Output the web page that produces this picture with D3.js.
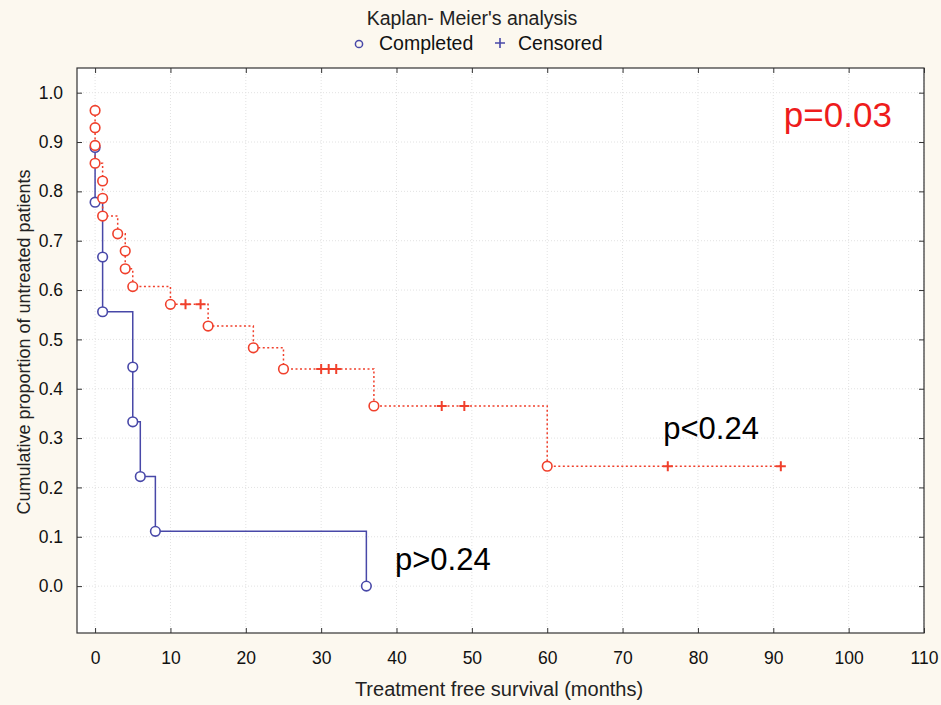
<!DOCTYPE html>
<html>
<head>
<meta charset="utf-8">
<script src="https://cdn.jsdelivr.net/npm/d3@7"></script>
<style>
  body { margin: 0; background: #fcf8ef; }
  svg { display: block; font-family: "Liberation Sans", Arial, sans-serif; }
</style>
</head>
<body>
<svg></svg>
<script>
var width = 941;
var height = 705;

// values
var xTicks = [0, 10, 20, 30, 40, 50, 60, 70, 80, 90, 100, 110];
var yTicks = [0.0, 0.1, 0.2, 0.3, 0.4, 0.5, 0.6, 0.7, 0.8, 0.9, 1.0];

// censored group (red): events and censored cases
var redEventTimes = [0, 0, 0, 0, 1, 1, 1, 3, 4, 4, 5, 10, 15, 21, 25, 37, 60];
var redEventSurv = [0.964, 0.929, 0.893, 0.857, 0.821, 0.786, 0.750, 0.714, 0.679, 0.643, 0.607, 0.571, 0.527, 0.483, 0.440, 0.365, 0.243];
var redCensTimes = [12, 14, 30, 31, 32, 46, 49, 76, 91];
var redCensSurv = [0.571, 0.571, 0.440, 0.440, 0.440, 0.365, 0.365, 0.243, 0.243];

// completed group (blue)
var blueEventTimes = [0, 0, 1, 1, 5, 5, 6, 8, 36];
var blueEventSurv = [0.889, 0.778, 0.667, 0.556, 0.444, 0.333, 0.222, 0.111, 0.0];

var blue = "#4848a8";
var red = "#f0402c";

var xScale = d3.scaleLinear()
                .domain([-2.4, 110])
                .range([77, 924]);

var yScale = d3.scaleLinear()
                .domain([-0.095, 1.05])
                .range([633, 68]);

var svg = d3.select("svg")
    .attr("width", width)
    .attr("height", height);

// plot area
svg.append("rect")
    .attr("x", xScale.range()[0])
    .attr("y", yScale.range()[1])
    .attr("width", xScale.range()[1] - xScale.range()[0])
    .attr("height", yScale.range()[0] - yScale.range()[1])
    .attr("fill", "#ffffff");

// grid
svg.append("g")
  .selectAll("line")
  .data(xTicks)
  .enter()
  .append("line")
    .attr("x1", d => xScale(d))
    .attr("x2", d => xScale(d))
    .attr("y1", yScale.range()[1])
    .attr("y2", yScale.range()[0])
    .attr("stroke", "#e2e2e2")
    .attr("stroke-dasharray", "1,2");

svg.append("g")
  .selectAll("line")
  .data(yTicks)
  .enter()
  .append("line")
    .attr("x1", xScale.range()[0])
    .attr("x2", xScale.range()[1])
    .attr("y1", d => yScale(d))
    .attr("y2", d => yScale(d))
    .attr("stroke", "#e2e2e2")
    .attr("stroke-dasharray", "1,2");

// axes, ticks pointing inward
var xAxis = d3.axisBottom(xScale)
                .tickValues(xTicks)
                .tickFormat(d3.format("d"))
                .tickSize(-5)
                .tickSizeOuter(0)
                .tickPadding(19);
var yAxis = d3.axisLeft(yScale)
                .tickValues(yTicks)
                .tickFormat(d3.format(".1f"))
                .tickSize(-5)
                .tickSizeOuter(0)
                .tickPadding(14);

svg.append("g")
    .attr("transform", "translate(0," + yScale.range()[0] + ")")
    .call(xAxis);

svg.append("g")
    .attr("transform", "translate(" + xScale.range()[0] + ",0)")
    .call(yAxis);

svg.append("g")
    .attr("transform", "translate(0," + yScale.range()[1] + ")")
    .call(d3.axisTop(xScale).tickValues(xTicks).tickSize(-5).tickSizeOuter(0).tickFormat(""));

svg.append("g")
    .attr("transform", "translate(" + xScale.range()[1] + ",0)")
    .call(d3.axisRight(yScale).tickValues(yTicks).tickSize(-5).tickSizeOuter(0).tickFormat(""));

svg.selectAll(".domain").remove();
svg.selectAll(".tick line").attr("stroke", "#333");
svg.selectAll(".tick text")
    .style("font-size", "17.5px")
    .attr("fill", "#111");

// frame
svg.append("rect")
    .attr("x", xScale.range()[0])
    .attr("y", yScale.range()[1])
    .attr("width", xScale.range()[1] - xScale.range()[0])
    .attr("height", yScale.range()[0] - yScale.range()[1])
    .attr("fill", "none")
    .attr("stroke", "#333")
    .attr("stroke-width", 1.2);

// step curves
function points(times, surv) {
    return times.map((t, i) => ({t: t, s: surv[i]}));
}

var redEvents = points(redEventTimes, redEventSurv);
var redCens = points(redCensTimes, redCensSurv);
var redAll = redEvents.concat(redCens)
    .sort((a, b) => a.t - b.t || b.s - a.s);
var blueEvents = points(blueEventTimes, blueEventSurv);

var step = d3.line()
    .x(d => xScale(d.t))
    .y(d => yScale(d.s))
    .curve(d3.curveStepAfter);

svg.append("path")
    .attr("d", step(blueEvents))
    .attr("fill", "none")
    .attr("stroke", blue)
    .attr("stroke-width", 1.5);

svg.append("path")
    .attr("d", step(redAll))
    .attr("fill", "none")
    .attr("stroke", red)
    .attr("stroke-width", 1.5)
    .attr("stroke-dasharray", "2,2.5");

var crossPath = "M-5,0H5M0,-5V5";

svg.append("g")
  .selectAll("circle")
  .data(blueEvents)
  .enter()
  .append("circle")
    .attr("cx", d => xScale(d.t))
    .attr("cy", d => yScale(d.s))
    .attr("r", 4.8)
    .attr("fill", "#fff")
    .attr("stroke", blue)
    .attr("stroke-width", 1.6);

svg.append("g")
  .selectAll("circle")
  .data(redEvents)
  .enter()
  .append("circle")
    .attr("cx", d => xScale(d.t))
    .attr("cy", d => yScale(d.s))
    .attr("r", 4.8)
    .attr("fill", "#fff")
    .attr("stroke", red)
    .attr("stroke-width", 1.6);

svg.append("g")
  .selectAll("path")
  .data(redCens)
  .enter()
  .append("path")
    .attr("transform", d => "translate(" + xScale(d.t) + "," + yScale(d.s) + ")")
    .attr("d", crossPath)
    .attr("stroke", red)
    .attr("stroke-width", 2);

// title and legend
svg.append("text")
    .attr("x", 472)
    .attr("y", 25)
    .style("text-anchor", "middle")
    .style("font-size", "19.5px")
    .attr("fill", "#222")
    .text("Kaplan- Meier's analysis");

svg.append("circle")
    .attr("cx", 359)
    .attr("cy", 44)
    .attr("r", 3.6)
    .attr("fill", "none")
    .attr("stroke", blue)
    .attr("stroke-width", 1.5);

svg.append("text")
    .attr("x", 379)
    .attr("y", 50)
    .style("font-size", "19.5px")
    .attr("fill", "#111")
    .text("Completed");

svg.append("path")
    .attr("transform", "translate(500,43)")
    .attr("d", crossPath)
    .attr("stroke", blue)
    .attr("stroke-width", 1.6);

svg.append("text")
    .attr("x", 518)
    .attr("y", 50)
    .style("font-size", "19.5px")
    .attr("fill", "#111")
    .text("Censored");

// axis labels
svg.append("text")
    .attr("x", 499)
    .attr("y", 696)
    .style("text-anchor", "middle")
    .style("font-size", "20px")
    .attr("fill", "#222")
    .text("Treatment free survival (months)");

svg.append("text")
    .attr("transform", "rotate(-90)")
    .attr("x", -342)
    .attr("y", 30)
    .style("text-anchor", "middle")
    .style("font-size", "18px")
    .attr("fill", "#222")
    .text("Cumulative proportion of untreated patients");

// p values
svg.append("text")
    .attr("x", xScale(39.8))
    .attr("y", yScale(0.032))
    .style("font-size", "31px")
    .attr("fill", "#000")
    .text("p>0.24");

svg.append("text")
    .attr("x", xScale(75.4))
    .attr("y", yScale(0.298))
    .style("font-size", "31px")
    .attr("fill", "#000")
    .text("p<0.24");

svg.append("text")
    .attr("x", xScale(91.4))
    .attr("y", yScale(0.93))
    .style("font-size", "35px")
    .attr("fill", "#ee1c1c")
    .text("p=0.03");
</script>
</body>
</html>
